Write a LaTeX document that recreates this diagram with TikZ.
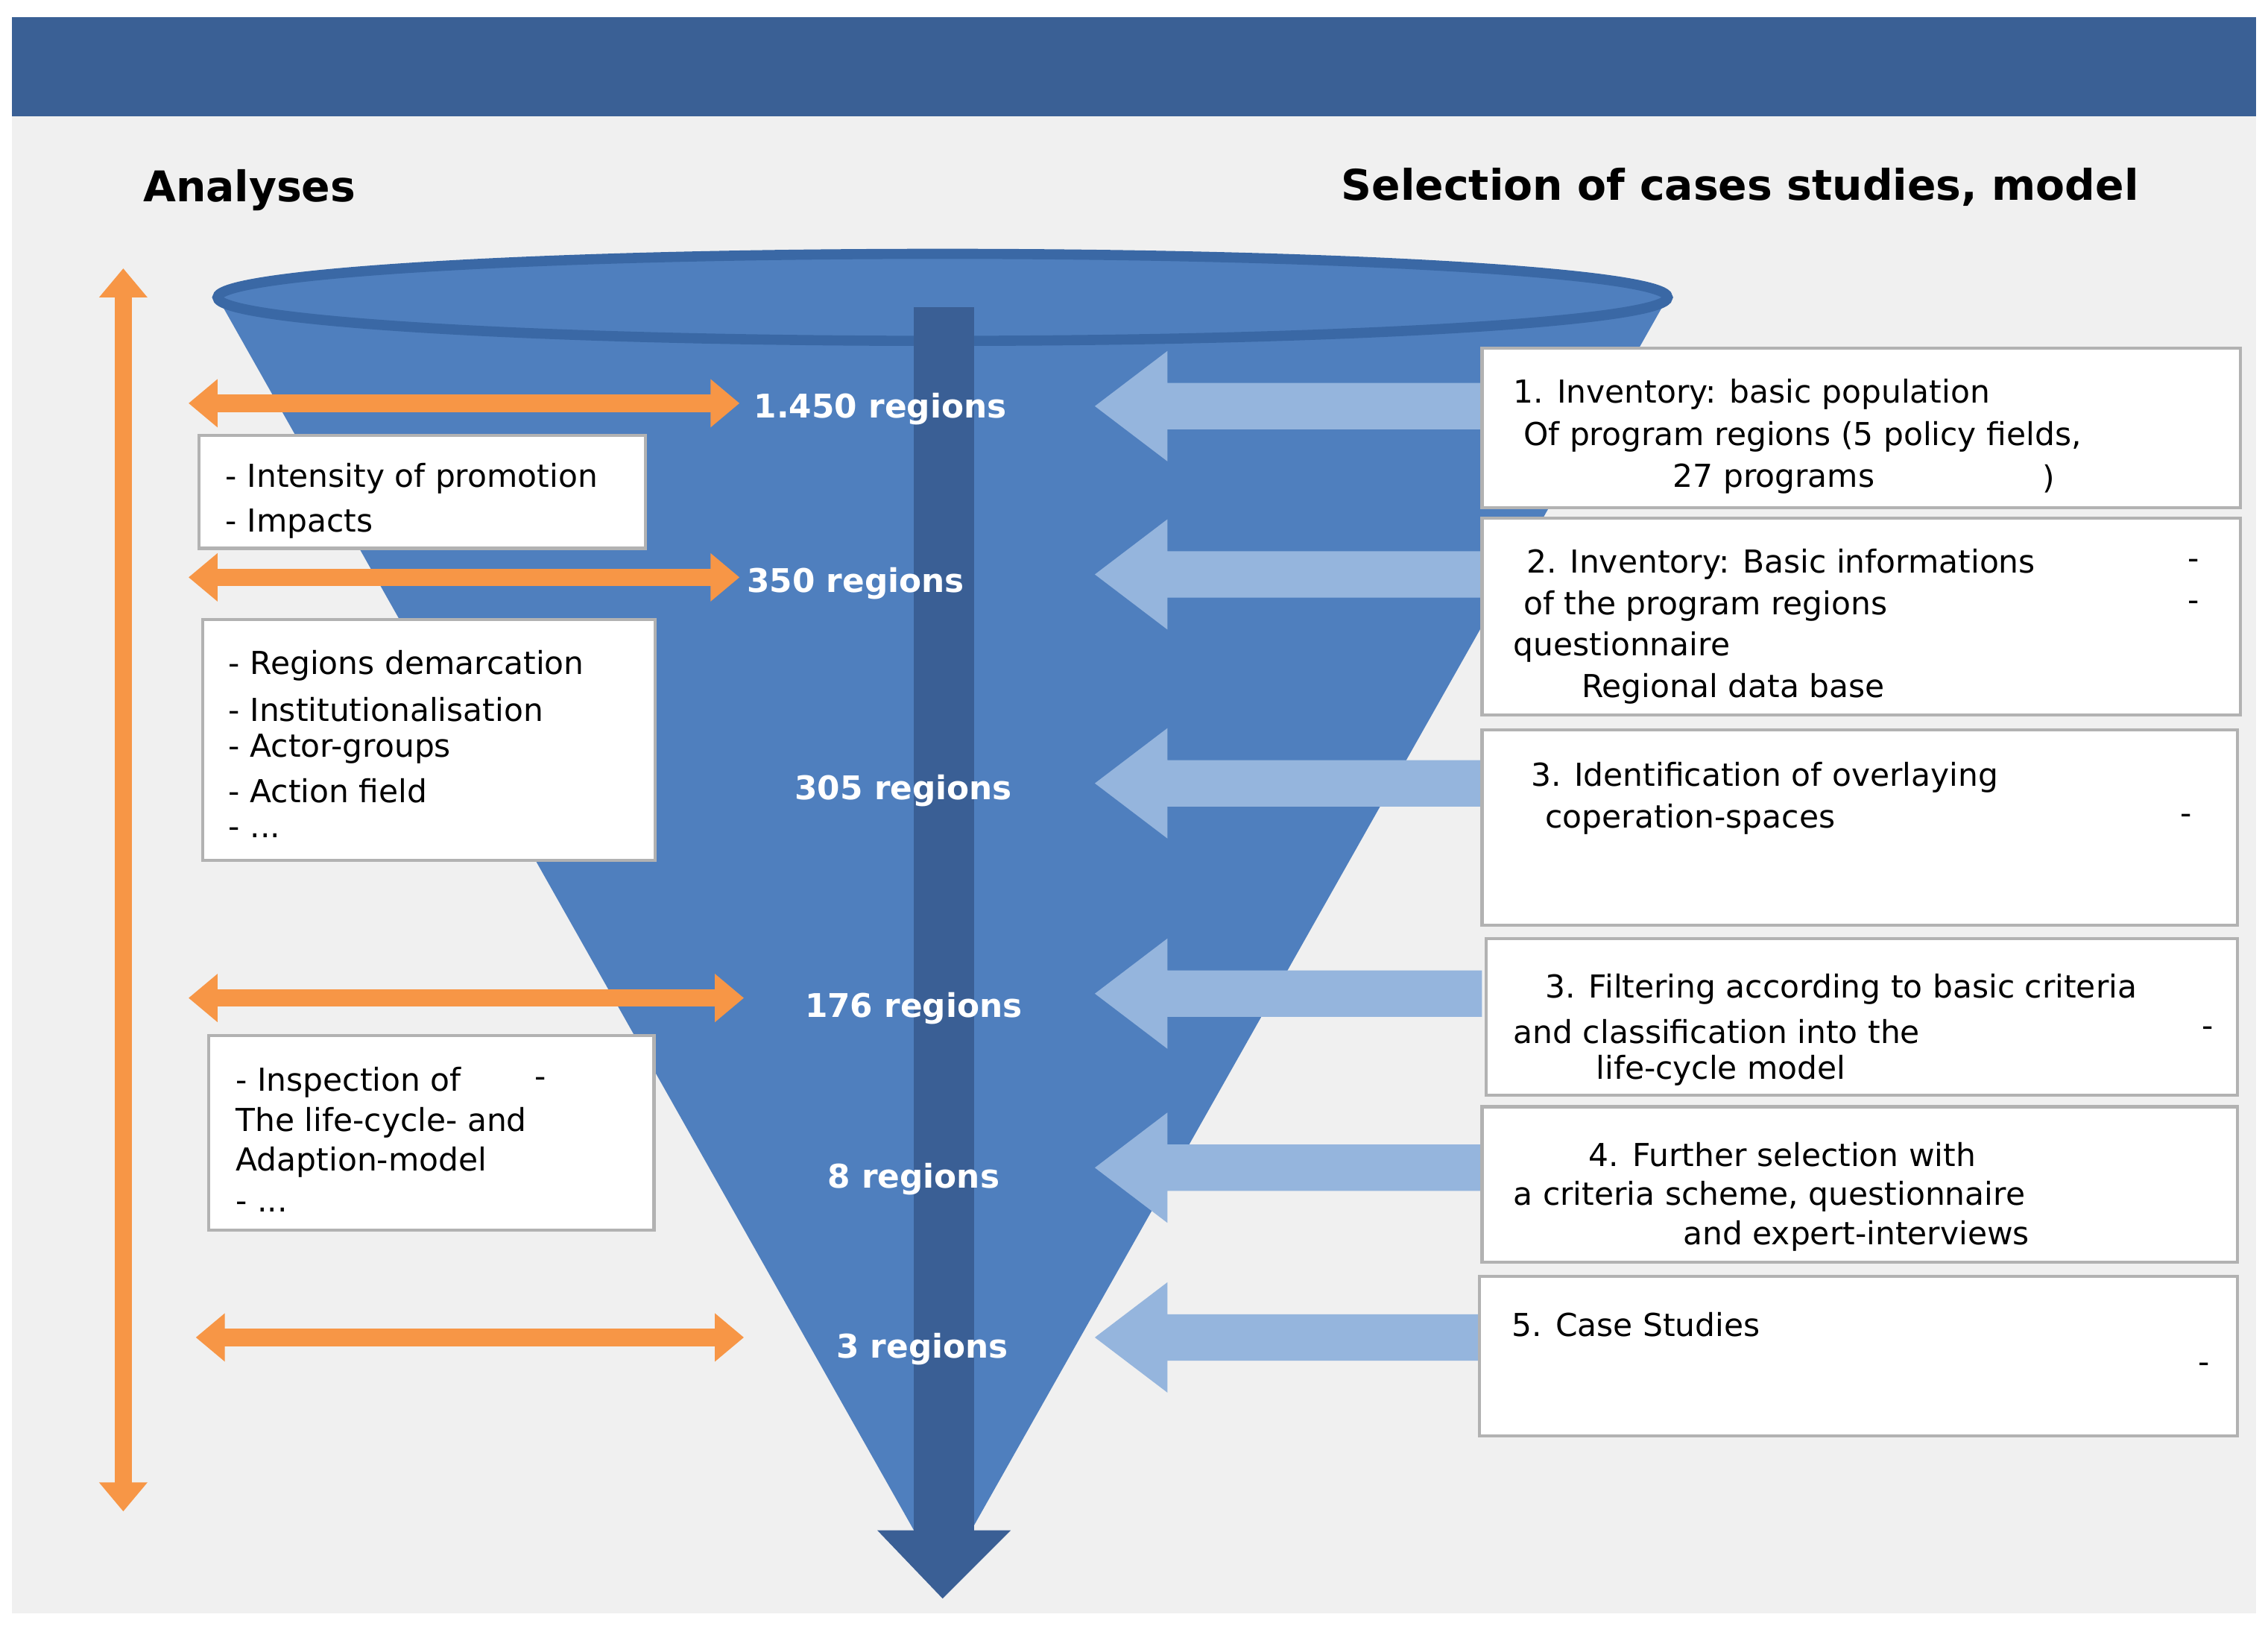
\documentclass[tikz,border=0pt]{standalone}
\usepackage{fontspec}
\setmainfont{DejaVu Sans}
\usetikzlibrary{arrows.meta}
\definecolor{bar}{HTML}{3A6095}
\definecolor{cone}{HTML}{4F7FBE}
\definecolor{coneedge}{HTML}{3A68A5}
\definecolor{dark}{HTML}{3A5F95}
\definecolor{org}{HTML}{F79646}
\definecolor{lb}{HTML}{95B5DD}
\definecolor{bg}{HTML}{F0F0F0}
\tikzset{
 t/.style={anchor=west,inner sep=0pt,font=\fontsize{6.2}{7.5}\selectfont},
 hd/.style={inner sep=0pt,font=\bfseries\fontsize{8.3}{10}\selectfont},
 rg/.style={inner sep=0pt,text=white,font=\bfseries\fontsize{6.4}{8}\selectfont},
 bx/.style={draw=gray!60,fill=white,line width=0.6pt},
 oa/.style={draw=org,line width=0.12cm,{Triangle[width=0.32cm,length=0.2cm]}-{Triangle[width=0.32cm,length=0.2cm]}},
}
\newcommand{\larrow}[1]{\fill[lb] (7.55,#1) -- (8.05,#1+0.38) -- (8.05,#1+0.16) -- (10.22,#1+0.16) -- (10.22,#1-0.16) -- (8.05,#1-0.16) -- (8.05,#1-0.38) -- cycle;}
\begin{document}
\begin{tikzpicture}[x=1cm,y=-1cm]
\useasboundingbox (0,0) rectangle (15.64,11.23);
\fill[white] (0,0) rectangle (15.64,11.23);
\fill[bg] (0.08,0.8) rectangle (15.56,11.12);
\fill[bar] (0.08,0.12) rectangle (15.56,0.8);
\node[hd] (h1) at (1.72,1.31) {Analyses};
\node[hd] (h2) at (12.0,1.29) {Selection of cases studies, model};
% cone
\fill[cone] (1.5,2.05) -- (6.5,10.9) -- (11.5,2.05) -- cycle;
\draw[coneedge,line width=0.07cm,fill=cone] (6.5,2.05) ellipse (5.0 and 0.3);
% central arrow
\fill[dark] (6.3,2.12) rectangle (6.72,10.55);
\fill[dark] (6.05,10.55) -- (6.97,10.55) -- (6.5,11.02) -- cycle;
% orange arrows
\coordinate (vt) at (0.85,1.85); \coordinate (vb) at (0.85,10.42);
\draw[oa] (vt) -- (vb);
\draw[oa] (1.3,2.78) -- (5.1,2.78);
\draw[oa] (1.3,3.98) -- (5.1,3.98);
\draw[oa] (1.3,6.88) -- (5.13,6.88);
\draw[oa] (1.35,9.22) -- (5.13,9.22);
% left blue arrows
\larrow{2.80}\larrow{3.96}\larrow{5.40}\larrow{6.85}\larrow{8.05}\larrow{9.22}
% region labels
\node[rg] (r1) at (6.07,2.82) {1.450 regions};
\node[rg] (r2) at (5.90,4.02) {350 regions};
\node[rg] (r3) at (6.23,5.45) {305 regions};
\node[rg] (r4) at (6.30,6.95) {176 regions};
\node[rg] (r5) at (6.30,8.13) {8 regions};
\node[rg] (r6) at (6.36,9.30) {3 regions};
% left boxes
\draw[bx] (1.37,3.00) rectangle (4.45,3.78);
\node[t] (a1) at (1.55,3.30) {- Intensity of promotion};
\node[t] (a2) at (1.55,3.61) {- Impacts};
\draw[bx] (1.40,4.27) rectangle (4.52,5.93);
\node[t] (b1) at (1.57,4.59) {- Regions demarcation};
\node[t] (b2) at (1.57,4.89) {- Institutionalisation};
\node[t] (b3) at (1.57,5.16) {- Actor-groups};
\node[t] (b4) at (1.57,5.45) {- Action field};
\node[t] (b5) at (1.57,5.74) {- ...};
\draw[bx] (1.44,7.14) rectangle (4.51,8.48);
\node[t] (c1) at (1.62,7.46) {- Inspection of};
\node[t] (c1b) at (3.68,7.46) {-};
\node[t] (c2) at (1.62,7.74) {The life-cycle- and};
\node[t] (c3) at (1.62,8.01) {Adaption-model};
\node[t] (c4) at (1.62,8.32) {- ...};
% right boxes
\draw[bx] (10.22,2.40) rectangle (15.45,3.50);
\node[t] (d1) at (10.43,2.72) {1. Inventory: basic population};
\node[t] (d2) at (10.50,3.01) {Of program regions (5 policy fields,};
\node[t] (d3) at (11.53,3.30) {27 programs};
\node[t] (d3b) at (14.08,3.30) {)};
\draw[bx] (10.22,3.57) rectangle (15.45,4.93);
\node[t] (e1) at (10.52,3.89) {2. Inventory: Basic informations};
\node[t] (e1b) at (15.08,3.89) {-};
\node[t] (e2) at (10.50,4.18) {of the program regions};
\node[t] (e2b) at (15.08,4.18) {-};
\node[t] (e3) at (10.43,4.46) {questionnaire};
\node[t] (e4) at (10.90,4.75) {Regional data base};
\draw[bx] (10.22,5.03) rectangle (15.43,6.38);
\node[t] (f1) at (10.55,5.36) {3. Identification of overlaying};
\node[t] (f2) at (10.65,5.65) {coperation-spaces};
\node[t] (f2b) at (15.03,5.65) {-};
\draw[bx] (10.25,6.47) rectangle (15.43,7.55);
\node[t] (g1) at (10.65,6.82) {3. Filtering according to basic criteria};
\node[t] (g2) at (10.43,7.11) {and classification into the};
\node[t] (g2b) at (15.18,7.11) {-};
\node[t] (g3) at (11.00,7.38) {life-cycle model};
\draw[bx] (10.22,7.63) rectangle (15.43,8.70);
\node[t] (h1t) at (10.95,7.96) {4. Further selection with};
\node[t] (h2t) at (10.43,8.25) {a criteria scheme, questionnaire};
\node[t] (h3t) at (11.60,8.52) {and expert-interviews};
\draw[bx] (10.20,8.80) rectangle (15.43,9.90);
\node[t] (i1) at (10.42,9.13) {5. Case Studies};
\node[t] (i1b) at (15.15,9.43) {-};
\end{tikzpicture}
\end{document}
